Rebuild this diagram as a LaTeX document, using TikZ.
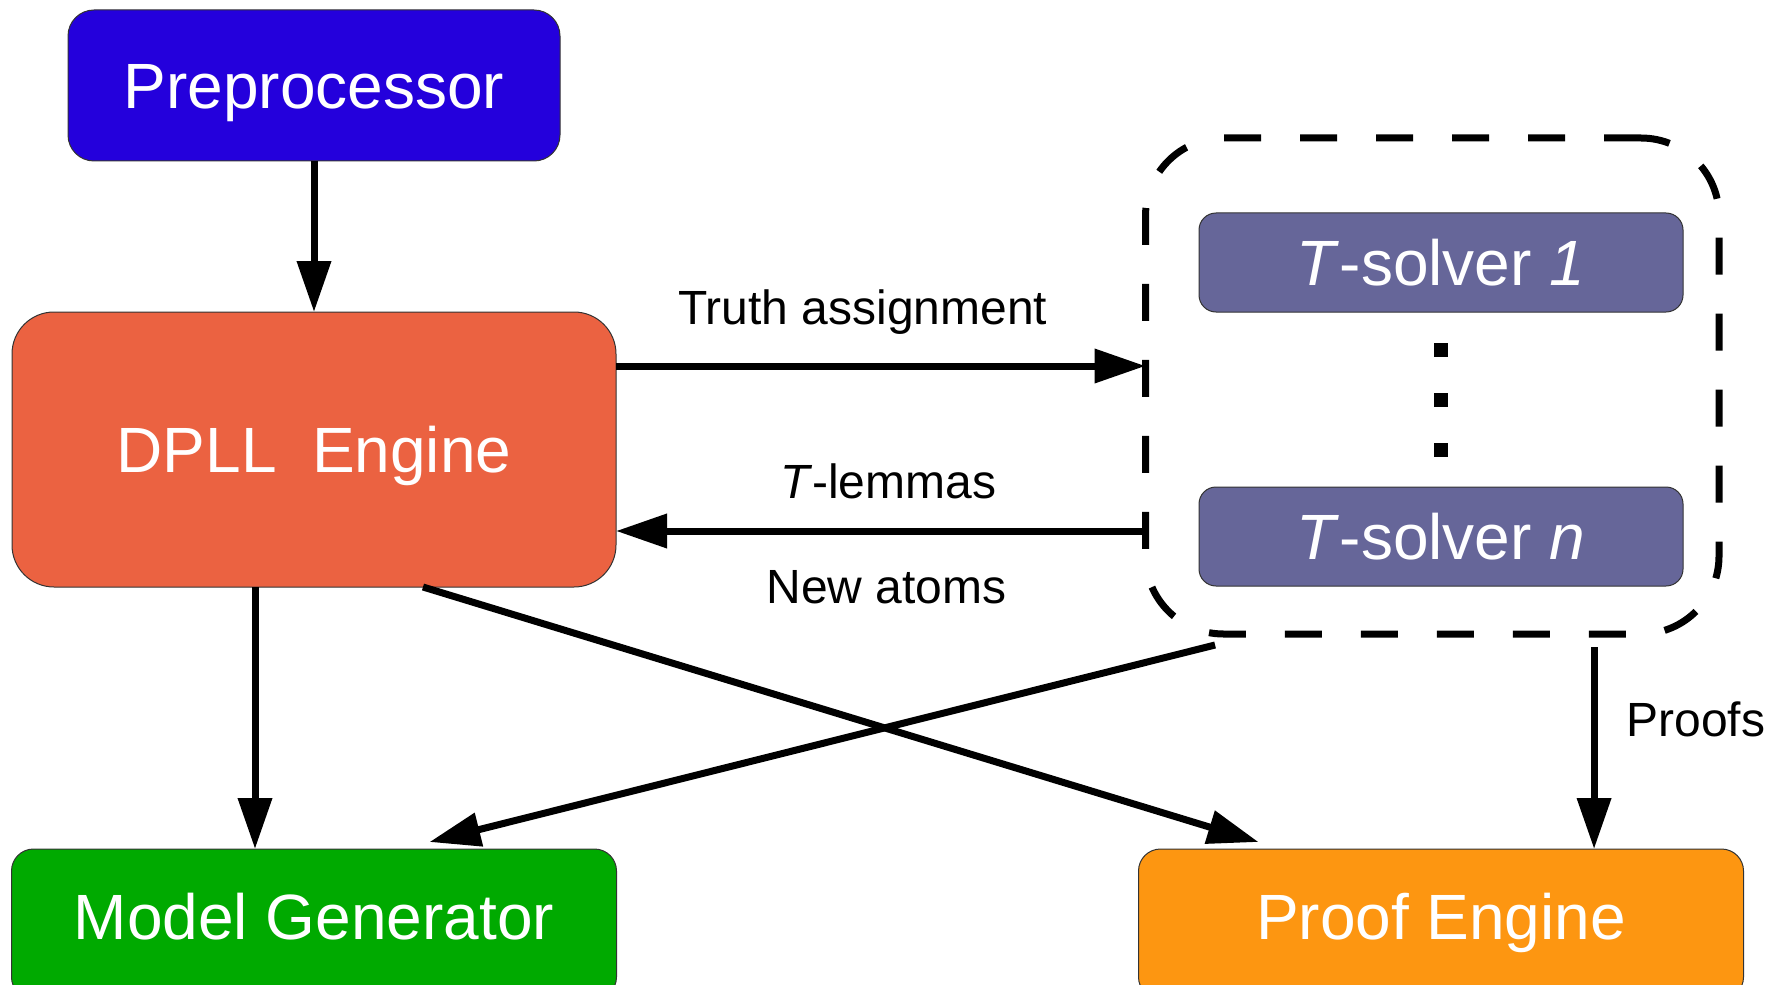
\documentclass[tikz,border=0pt]{standalone}
\usepackage{fontspec}
\setmainfont{Liberation Sans}
\usetikzlibrary{positioning,arrows.meta}

\definecolor{preblue}{RGB}{36,0,220}
\definecolor{dpllred}{RGB}{235,98,65}
\definecolor{solvergray}{RGB}{102,102,153}
\definecolor{modelgreen}{RGB}{0,170,0}
\definecolor{prooforange}{RGB}{253,150,17}

\begin{document}
\begin{tikzpicture}[
      x=0.5pt, y=-0.5pt,
      box/.style={
        draw=black!80, line width=0.5pt, text=white, outer sep=0pt, inner sep=0pt,
        font=\fontsize{32}{38}\selectfont, text height=22.9pt, text depth=0pt
      },
      lbl/.style={
        font=\fontsize{24}{29}\selectfont, text height=17.2pt, text depth=0pt, inner sep=0pt
      },
      arr/.style={line width=3.5pt, -{Triangle[length=25.5pt,width=16.5pt]}},
      sqdot/.style={fill=black, minimum size=7pt, inner sep=0pt},
      ]
      \useasboundingbox (0,0) rectangle (1780,984);

      \node[box, fill=preblue, minimum width=246pt, minimum height=75.5pt,
            rounded corners=13pt] (pre) at (314,85.5) {Preprocessor};
      \node[box, fill=dpllred, minimum width=302pt, minimum height=137.5pt,
            rounded corners=21pt, below=75.5pt of pre] (dpll) {DPLL\ \ Engine};
      \node[box, fill=solvergray, minimum width=242pt, minimum height=49.5pt,
            rounded corners=8.5pt] (ts1) at (1441,262.5) {\textit{T}-solver \textit{1}};
      \node[box, fill=solvergray, minimum width=242pt, minimum height=49.5pt,
            rounded corners=8.5pt, below=87.5pt of ts1] (tsn) {\textit{T}-solver \textit{n}};
      \node[draw, line width=3.5pt, dash pattern=on 18.5pt off 19.5pt, rounded corners=39pt,
            minimum width=286.75pt, minimum height=248pt, outer sep=0pt] (grp) at (1432.25,386) {};
      \node[box, fill=modelgreen, minimum width=302.5pt, minimum height=75pt, text depth=7pt,
            rounded corners=11pt, below=131pt of dpll] (model) {Model Generator};
      \node[box, fill=prooforange, minimum width=302.5pt, minimum height=75pt, text depth=7pt,
            rounded corners=11pt, right=261pt of model] (proof) {Proof Engine};

      % vertical dots between the solvers
      \foreach \y [count=\k] in {350,400,450}
        \node[sqdot] (dot\k) at (1441,\y) {};

      % Connect the nodes
      \draw[arr] (pre) -- (dpll);
      \draw[arr] ([yshift=41.75pt]dpll.east) -- ([yshift=41.75pt]dpll.east -| grp.west)
        node[lbl, pos=0.466, above=19pt] {Truth assignment};
      \draw[arr] ([yshift=-40.75pt]dpll.east -| grp.west) -- ([yshift=-40.75pt]dpll.east)
        node[lbl, pos=0.486, above=14.5pt] {\textit{T}-lemmas}
        node[lbl, pos=0.489, below=17.5pt] {New atoms};
      \draw[arr] ([xshift=-29.5pt]dpll.south) -- ([xshift=-29.5pt]dpll.south |- model.north);
      \draw[arr] ([xshift=54.5pt]dpll.south) -- ([xshift=-91.25pt,yshift=3.5pt]proof.north);
      \draw[arr] ([xshift=-108.6pt,yshift=-5.5pt]grp.south) -- ([xshift=57.75pt,yshift=3.5pt]model.north);
      \draw[arr] ([xshift=80.9pt,yshift=-6.5pt]grp.south) -- ([xshift=80.9pt]grp.south |- proof.north)
        node[lbl, pos=0.36, right=14.5pt] {Proofs};
\end{tikzpicture}
\end{document}
